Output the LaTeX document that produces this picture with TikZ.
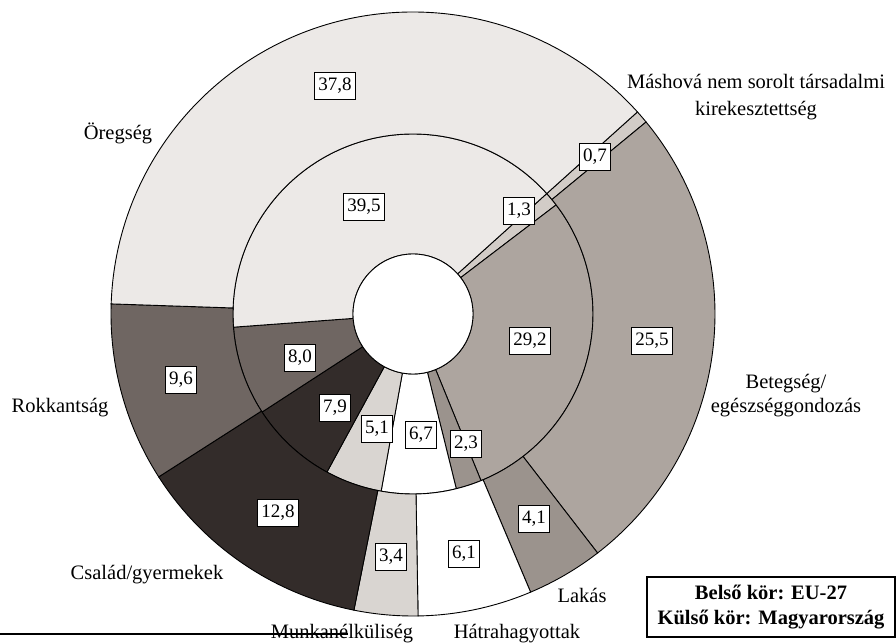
\documentclass[tikz,border=0pt]{standalone}
\usepackage{fontspec}
\setmainfont{Liberation Serif}
\definecolor{oregseg}{HTML}{ECE9E7}
\definecolor{mashova}{HTML}{D2CCC7}
\definecolor{betegseg}{HTML}{ADA59F}
\definecolor{lakas}{HTML}{9B938D}
\definecolor{hatrahagy}{HTML}{FFFFFF}
\definecolor{munkanelk}{HTML}{D9D5D1}
\definecolor{csalad}{HTML}{332C2A}
\definecolor{rokkant}{HTML}{6F6662}
\newcommand{\ringpart}[5]{\draw[fill=#1] (#4:#3) arc[start angle=#4,end angle=#5,radius=#3] -- (#5:#2) arc[start angle=#5,end angle=#4,radius=#2] -- cycle;}
\tikzset{
  numbox/.style={draw,fill=white,line width=1pt,inner xsep=4pt,inner ysep=2pt,minimum height=27pt,font=\fontsize{19}{22}\selectfont},
  catlabel/.style={align=center,font=\fontsize{20.5}{24}\selectfont},
  legendbox/.style={draw,line width=1.2pt,align=center,minimum width=248pt,minimum height=60pt,inner sep=2pt,font=\fontsize{20.5}{25}\selectfont\bfseries}
}
\begin{document}
\begin{tikzpicture}[x=1pt,y=1pt,line width=0.9pt]
        \useasboundingbox (-413,-330) rectangle (483,314);
        \ringpart{mashova}{60}{180}{42}{37.32}
        \ringpart{betegseg}{60}{180}{37.32}{-67.8}
        \ringpart{lakas}{60}{180}{-67.8}{-76.08}
        \ringpart{hatrahagy}{60}{180}{-76.08}{-100.2}
        \ringpart{munkanelk}{60}{180}{-100.2}{-118.56}
        \ringpart{csalad}{60}{180}{-118.56}{-147}
        \ringpart{rokkant}{60}{180}{-147}{-175.8}
        \ringpart{oregseg}{60}{180}{-175.8}{-318}
        \ringpart{mashova}{180}{302}{42}{39.48}
        \ringpart{betegseg}{180}{302}{39.48}{-52.32}
        \ringpart{lakas}{180}{302}{-52.32}{-67.08}
        \ringpart{hatrahagy}{180}{302}{-67.08}{-89.04}
        \ringpart{munkanelk}{180}{302}{-89.04}{-101.28}
        \ringpart{csalad}{180}{302}{-101.28}{-147.36}
        \ringpart{rokkant}{180}{302}{-147.36}{-181.92}
        \ringpart{oregseg}{180}{302}{-181.92}{-318}
        \draw [fill=white] (0,0) circle (60);
        \node [numbox] (o378) at (-78,228) {37,8};
        \node [numbox] (o07) at (182,157) {0,7};
        \node [numbox] (o255) at (239,-27) {25,5};
        \node [numbox] (o41) at (121,-205) {4,1};
        \node [numbox] (o61) at (51,-240) {6,1};
        \node [numbox] (o34) at (-22,-243) {3,4};
        \node [numbox] (o128) at (-135,-199) {12,8};
        \node [numbox] (o96) at (-232,-66) {9,6};
        \node [numbox] (i395) at (-49,107) {39,5};
        \node [numbox] (i13) at (106,103) {1,3};
        \node [numbox] (i292) at (117,-27) {29,2};
        \node [numbox] (i23) at (53,-130) {2,3};
        \node [numbox] (i67) at (8,-121) {6,7};
        \node [numbox] (i51) at (-36,-115) {5,1};
        \node [numbox] (i79) at (-78,-94) {7,9};
        \node [numbox] (i80) at (-113,-44) {8,0};
        \node [catlabel] (oregsegl) at (-295,181) {Öregség};
        \node [catlabel] (mashoval) at (343,217) {Máshová nem sorolt társadalmi\\[3pt]kirekesztettség};
        \node [catlabel] (betegsegl) at (373,-82) {Betegség/\\egészséggondozás};
        \node [catlabel] (rokkantl) at (-353,-94) {Rokkantság};
        \node [catlabel] (csaladl) at (-266,-261) {Család/gyermekek};
        \node [catlabel] (lakasl) at (169,-281) {Lakás};
        \node [catlabel] (munkanelkl) at (-71,-320) {Munkanélküliség};
        \node [catlabel] (hatrahagyl) at (104,-320) {Hátrahagyottak};
        \node [legendbox] (legend) at (358,-293) {Belső kör: EU-27\\Külső kör: Magyarország};
        \coordinate (ruleleft) at (-413,-320);
        \coordinate (ruleright) at (-65,-320);
        \draw [line width=1.8pt] (ruleleft) -- (ruleright);
    \end{tikzpicture}
\end{document}
